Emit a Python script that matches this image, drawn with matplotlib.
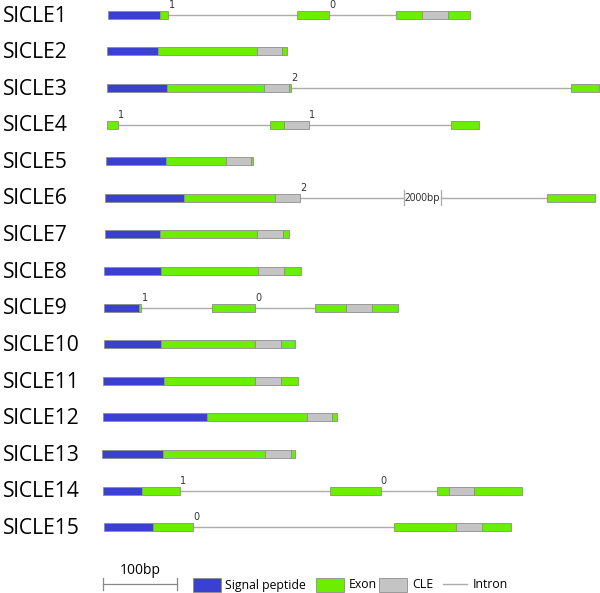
import matplotlib
matplotlib.use("Agg")
import matplotlib.pyplot as plt
from matplotlib.patches import Rectangle

# ---------------- data ----------------
genes = ["SlCLE1", "SlCLE2", "SlCLE3", "SlCLE4", "SlCLE5", "SlCLE6", "SlCLE7",
         "SlCLE8", "SlCLE9", "SlCLE10", "SlCLE11", "SlCLE12", "SlCLE13",
         "SlCLE14", "SlCLE15"]

# start offset of each gene model (bp)
gene_starts = [7, 5, 5, 5, 4, 3, 3, 1, 1, 1, 0, 0, -1, 0, 1]

# S = signal peptide, E = exon, C = CLE motif, I = intron
seg_kinds = ["SEIEIECE", "SECE", "SECEIE", "EIECIE", "SECE", "SECIE", "SECE",
             "SECE", "SEIEIECE", "SECE", "SECE", "SECE", "SECE", "SEIEIECE",
             "SEIECE"]

seg_lengths = [
    [70, 11, 174, 43, 91, 35, 35, 30],
    [69, 134, 34, 7],
    [81, 131, 34, 3, 378, 38],
    [15, 205, 19, 34, 192, 38],
    [81, 81, 34, 3],
    [107, 122, 34, 334, 65],
    [74, 131, 35, 8],
    [77, 132, 34, 23],
    [47, 4, 95, 58, 82, 42, 35, 35],
    [78, 127, 34, 20],
    [82, 123, 35, 24],
    [141, 134, 34, 7],
    [82, 138, 35, 5],
    [53, 51, 203, 68, 77, 15, 35, 64],
    [66, 54, 272, 84, 35, 39],
]

intron_phases = [["1", "0"], [], ["2"], ["1", "1"], [], ["2"], [], [],
                 ["1", "0"], [], [], [], [], ["1", "0"], ["0"]]

# intron break in SlCLE6
break_gene = "SlCLE6"
break_span = (407, 457)
break_text = "2000bp"

scale_bp = 100
scale_text = "100bp"

legend_labels = ["Signal peptide", "Exon", "CLE", "Intron"]

# ---------------- style ----------------
colors = {"S": "#3A40CF", "E": "#6CEE00", "C": "#C4C4C4"}
edge = "#8E8E8E"
intron_col = "#ABABAB"
FONT = "Open Sans"

W, H = 600, 593
fig = plt.figure(figsize=(W / 100, H / 100), dpi=100)

px_per_bp = 0.74
origin_px = 103
ax = fig.add_axes([0, 0, 1, 1])
ax.set_xlim(-origin_px / px_per_bp, (W - origin_px) / px_per_bp)
ax.set_ylim(H, 0)
ax.axis("off")

# overlay axes in pixel units for labels/legend
lax = fig.add_axes([0, 0, 1, 1], facecolor="none")
lax.set_xlim(0, W)
lax.set_ylim(H, 0)
lax.axis("off")

row0, row_step = 14.8, 36.6
bar_h = 8

for i, g in enumerate(genes):
    y = row0 + row_step * i
    lax.text(3, y + 1.2, g, fontsize=15.2, family=FONT, va="center", ha="left",
             color="black")
    x = gene_starts[i]
    pi = 0
    for k, L in zip(seg_kinds[i], seg_lengths[i]):
        if k == "I":
            if g == break_gene:
                b0, b1 = break_span
                ax.plot([x, b0], [y, y], color=intron_col, lw=1, zorder=1)
                ax.plot([b1, x + L], [y, y], color=intron_col, lw=1, zorder=1)
                for bx in (b0, b1):
                    ax.plot([bx, bx], [y - 7.5, y + 7.5], color=intron_col,
                            lw=0.9, zorder=1)
                ax.text((b0 + b1) / 2, y + 0.5, break_text, fontsize=7.3,
                        family=FONT, ha="center", va="center", color="#222222")
            else:
                ax.plot([x, x + L], [y, y], color=intron_col, lw=1, zorder=1)
            if pi < len(intron_phases[i]):
                ax.text(x + 0.5, y - 5, intron_phases[i][pi], fontsize=7,
                        family="DejaVu Sans", ha="left", va="bottom",
                        color="#333333")
                pi += 1
        else:
            ax.add_patch(Rectangle((x, y - bar_h / 2), L, bar_h,
                                   facecolor=colors[k], edgecolor=edge,
                                   lw=0.6, zorder=2))
        x += L

# scale bar
ys = 584
ax.plot([0, scale_bp], [ys, ys], color="#888888", lw=0.9)
for bx in (0, scale_bp):
    ax.plot([bx, bx], [ys - 6, ys + 6], color="#888888", lw=0.9)
ax.text(scale_bp / 2, 571, scale_text, fontsize=10, family=FONT,
        ha="center", va="center")

# legend
leg_y = 585
boxes = [(193, "S", 225), (316, "E", 349), (379, "C", 412)]
for (bx, k, tx), lab in zip(boxes, legend_labels[:3]):
    lax.add_patch(Rectangle((bx, leg_y - 7), 28, 14, facecolor=colors[k],
                            edgecolor=edge, lw=0.6))
    lax.text(tx, leg_y, lab, fontsize=8.8, family=FONT, ha="left", va="center")
lax.plot([443, 467], [leg_y - 1, leg_y - 1], color=intron_col, lw=1)
lax.text(473, leg_y, legend_labels[3], fontsize=8.8, family=FONT, ha="left",
         va="center")

fig.savefig("out.png", dpi=100)
